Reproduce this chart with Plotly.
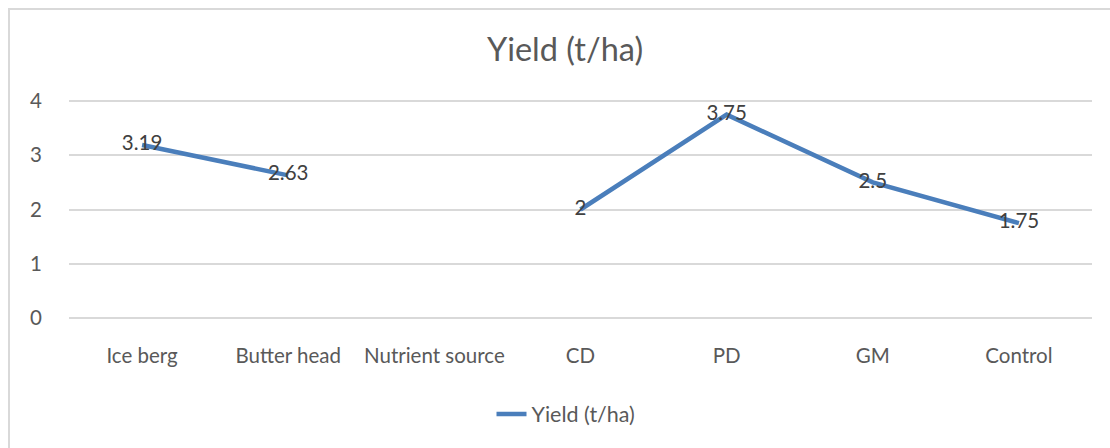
import plotly.graph_objects as go

categories = ["Ice berg", "Butter head", "Nutrient source", "CD", "PD", "GM", "Control"]
yield_values = [3.19, 2.63, None, 2, 3.75, 2.5, 1.75]
value_labels = ["3.19", "2.63", "", "2", "3.75", "2.5", "1.75"]
series_name = "Yield (t/ha)"
title_text = "Yield (t/ha)"

FONT = "Lato, Carlito, Calibri, sans-serif"
L, R, T, B = 69, 18, 100, 129
W, H = 1110, 448
pw = W - L - R
ph = H - T - B
YMIN, YMAX = -0.02, 4.02

fig = go.Figure()
fig.add_trace(go.Scatter(
    x=categories, y=yield_values, mode="lines+text", name=series_name,
    text=value_labels, textposition="middle center",
    textfont=dict(family=FONT, size=20.5, color="#404040"),
    line=dict(color="#4a7ebb", width=4.5), connectgaps=False,
    cliponaxis=False,
))

fig.add_shape(type="path", xref="paper", yref="paper",
              path=f"M {(9 - L) / pw},{(H - B - 470) / ph} L {(9 - L) / pw},{(H - B - 9) / ph} L {(1130 - L) / pw},{(H - B - 9) / ph}",
              line=dict(color="#d9d9d9", width=2))

fig.update_layout(
    width=W, height=H,
    margin=dict(l=L, r=R, t=T, b=B, autoexpand=False),
    paper_bgcolor="white", plot_bgcolor="white",
    title=dict(text=title_text, x=565 / W, xanchor="center", xref="container",
               y=1 - 50 / H, yanchor="middle", yref="container",
               font=dict(family=FONT, size=32.5, color="#595959")),
    font=dict(family=FONT, color="#595959"),
    showlegend=True,
    legend=dict(orientation="h", x=566 / W, xanchor="center", xref="container",
                y=1 - 414 / H, yanchor="middle", yref="container",
                font=dict(family=FONT, size=21.5, color="#595959")),
    xaxis=dict(range=[-0.5, len(categories) - 0.5], showgrid=False, showline=False,
               ticks="", zeroline=False, automargin=False,
               tickfont=dict(family=FONT, size=20.5, color="#595959"),
               ticklabelstandoff=22),
    yaxis=dict(range=[YMIN, YMAX], tickvals=[0, 1, 2, 3, 4], showgrid=True,
               gridcolor="#d9d9d9", gridwidth=1.5, automargin=False,
               zeroline=False, showline=False, ticks="",
               tickfont=dict(family=FONT, size=20.5, color="#595959"),
               ticklabelstandoff=26),
)

fig.write_html("out.html", config={"displayModeBar": False},
               post_script="document.body.style.margin='0';")
